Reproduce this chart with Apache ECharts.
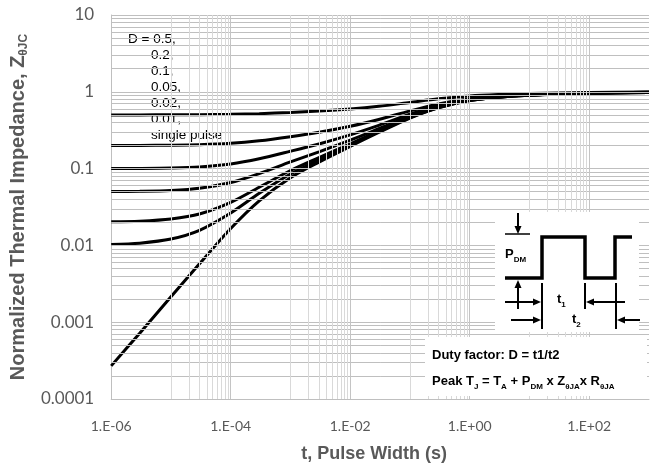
<!DOCTYPE html>
<html>
<head>
<meta charset="utf-8">
<script src="https://cdn.jsdelivr.net/npm/echarts@6/dist/echarts.min.js"></script>
<style>
  html, body { margin: 0; padding: 0; background: #fff; }
  #chart { width: 652px; height: 470px; }
</style>
</head>
<body>
<div id="chart"></div>
<script>
// pulse width t (s)
const pulseWidth = [1e-6, 3e-6, 1e-5, 3e-5, 1e-4, 3e-4, 1e-3, 3e-3, 1e-2, 3e-2, 1e-1, 3e-1, 1, 3, 10, 100, 1000]
// normalized thermal impedance for each duty factor
const zD050 = [0.5001, 0.5004, 0.5011, 0.5029, 0.5083, 0.519, 0.538, 0.5608, 0.5973, 0.6475, 0.7275, 0.8095, 0.8845, 0.9245, 0.951, 0.9775, 0.991]
const zD020 = [0.2002, 0.2006, 0.2017, 0.2046, 0.2133, 0.2304, 0.2607, 0.2973, 0.3556, 0.436, 0.564, 0.6952, 0.8152, 0.8792, 0.9216, 0.964, 0.9856]
const zD010 = [0.1002, 0.1006, 0.1019, 0.1052, 0.1149, 0.1342, 0.1683, 0.2094, 0.2751, 0.3655, 0.5095, 0.6571, 0.7921, 0.8641, 0.9118, 0.9595, 0.9838]
const zD005 = [0.0503, 0.0507, 0.052, 0.0555, 0.0658, 0.0861, 0.1221, 0.1655, 0.2348, 0.3303, 0.4823, 0.6381, 0.7806, 0.8566, 0.9069, 0.9573, 0.9829]
const zD002 = [0.0203, 0.0207, 0.0221, 0.0256, 0.0363, 0.0572, 0.0944, 0.1392, 0.2106, 0.3091, 0.4659, 0.6266, 0.7736, 0.852, 0.904, 0.9559, 0.9824]
const zD001 = [0.0103, 0.0107, 0.0121, 0.0157, 0.0264, 0.0476, 0.0851, 0.1304, 0.2026, 0.3021, 0.4605, 0.6228, 0.7713, 0.8505, 0.903, 0.9555, 0.9822]
const zSingle = [0.00027, 0.00072, 0.00214, 0.00575, 0.0166, 0.038, 0.0759, 0.1216, 0.1945, 0.295, 0.455, 0.619, 0.769, 0.849, 0.902, 0.955, 0.982]

const xTickValues = [1e-6, 1e-4, 1e-2, 1, 100]
const xTickLabels = ['1.E-06', '1.E-04', '1.E-02', '1.E+00', '1.E+02']
const yTickValues = [1e-4, 1e-3, 1e-2, 1e-1, 1, 10]
const yTickLabels = ['0.0001', '0.001', '0.01', '0.1', '1', '10']
const dutyLabels = ['D = 0.5,', '0.2,', '0.1,', '0.05,', '0.02,', '0.01,', 'single pulse']

const curves = [zD050, zD020, zD010, zD005, zD002, zD001, zSingle]

function pickLabel(values, labels, v) {
  for (let i = 0; i < values.length; i++) {
    if (Math.abs(Math.log10(v) - Math.log10(values[i])) < 1e-6) return labels[i]
  }
  return ''
}

// grid lines (Excel style: x minors at k*10^odd, y minors at k*10^n)
const gridLines = []
for (let e = -4; e <= 0; e++) {
  for (let k = 1; k <= 9; k++) {
    gridLines.push({ yAxis: k * Math.pow(10, e), lineStyle: { color: '#bfbfbf' } })
  }
}
gridLines.push({ yAxis: 10, lineStyle: { color: '#bfbfbf' } })
;[-5, -3, -1, 1].forEach(e => {
  for (let k = 1; k <= 9; k++) {
    gridLines.push({ xAxis: k * Math.pow(10, e), lineStyle: { color: '#d9d9d9' } })
  }
})
xTickValues.slice(1).forEach(v => {
  gridLines.push({ xAxis: v, lineStyle: { color: '#c4c4c4' } })
})

const myChart = echarts.init(document.getElementById('chart'))

const series = [{
  type: 'line',
  data: [],
  z: 1,
  silent: true,
  markLine: {
    silent: true,
    precision: 12,
    symbol: ['none', 'none'],
    label: { show: false },
    lineStyle: { type: 'solid', width: 1 },
    emphasis: { disabled: true },
    data: gridLines
  }
}]
curves.forEach((arr, i) => {
  series.push({
    name: dutyLabels[i],
    type: 'line',
    z: 3,
    smooth: 0.3,
    showSymbol: false,
    symbol: 'none',
    lineStyle: { color: '#000', width: 3 },
    data: pulseWidth.map((t, j) => [t, arr[j]])
  })
})

const textBase = { fontFamily: 'Liberation Sans', fontSize: 13.5, fill: '#000' }
const legendTexts = dutyLabels.map((s, i) => ({
  type: 'text',
  z: 2,
  left: i === 0 ? 128 : 151,
  top: 32 + i * 16,
  style: Object.assign({ text: s }, textBase)
}))

function arrow(x1, y1, x2, y2) {
  // line with a filled head at (x2, y2)
  const dx = x2 - x1, dy = y2 - y1
  const len = Math.sqrt(dx * dx + dy * dy)
  const ux = dx / len, uy = dy / len
  const hl = 8, hw = 3.5
  const bx = x2 - ux * hl, by = y2 - uy * hl
  return [
    { type: 'line', z: 11, shape: { x1: x1, y1: y1, x2: bx, y2: by }, style: { stroke: '#000', lineWidth: 2 } },
    { type: 'polygon', z: 11, shape: { points: [[x2, y2], [bx - uy * hw, by + ux * hw], [bx + uy * hw, by - ux * hw]] }, style: { fill: '#000' } }
  ]
}

const subRich = {
  b: { fontFamily: 'Liberation Sans', fontWeight: 'bold', fontSize: 13, lineHeight: 18, verticalAlign: 'middle', fill: '#000' },
  s: { fontFamily: 'Liberation Sans', fontWeight: 'bold', fontSize: 8, lineHeight: 8, verticalAlign: 'bottom', fill: '#000' }
}

const insetGraphics = [
  { type: 'rect', z: 10, shape: { x: 495, y: 212, width: 144, height: 120 }, style: { fill: '#fff' } },
  { type: 'rect', z: 10, shape: { x: 425, y: 337, width: 222, height: 59 }, style: { fill: '#fff' } },
  { type: 'polyline', z: 11, shape: { points: [[505, 278], [542, 278], [542, 237], [585, 237], [585, 278], [615, 278], [615, 237], [632, 237]] }, style: { stroke: '#000', lineWidth: 3.5, fill: null } },
  { type: 'line', z: 11, shape: { x1: 505, y1: 234, x2: 530, y2: 234 }, style: { stroke: '#000', lineWidth: 1.5 } },
  { type: 'line', z: 11, shape: { x1: 542, y1: 283, x2: 542, y2: 329 }, style: { stroke: '#000', lineWidth: 2 } },
  { type: 'line', z: 11, shape: { x1: 585, y1: 283, x2: 585, y2: 309 }, style: { stroke: '#000', lineWidth: 2 } },
  { type: 'line', z: 11, shape: { x1: 616, y1: 283, x2: 616, y2: 329 }, style: { stroke: '#000', lineWidth: 2 } },
  { type: 'line', z: 11, shape: { x1: 505, y1: 302, x2: 518, y2: 302 }, style: { stroke: '#000', lineWidth: 2 } },
  { type: 'text', z: 11, left: 505, top: 248, style: { rich: subRich, text: '{b|P}{s|DM}' } },
  { type: 'text', z: 11, left: 557, top: 293, style: { rich: subRich, text: '{b|t}{s|1}' } },
  { type: 'text', z: 11, left: 572, top: 313, style: { rich: subRich, text: '{b|t}{s|2}' } },
  { type: 'text', z: 11, left: 432, top: 349, style: { rich: subRich, text: '{b|Duty factor: D = t1/t2}' } },
  { type: 'text', z: 11, left: 432, top: 375, style: { rich: subRich, text: '{b|Peak T}{s|J}{b| = T}{s|A}{b| + P}{s|DM}{b| x Z}{s|θJA}{b|x R}{s|θJA}' } }
].concat(
  arrow(518, 213, 518, 234),
  arrow(518, 309, 518, 280),
  arrow(505, 302, 541, 302),
  arrow(625, 302, 586, 302),
  arrow(511, 320, 541, 320),
  arrow(640, 320, 617, 320)
)

const option = {
  animation: false,
  backgroundColor: '#fff',
  grid: {
    left: 97,
    right: -2,
    top: 15,
    bottom: 71,
    containLabel: false
  },
  xAxis: {
    type: 'log',
    logBase: 10,
    min: 1e-6,
    max: 1e3,
    name: 't, Pulse Width (s)',
    nameLocation: 'middle',
    nameGap: 46,
    nameTextStyle: { fontFamily: 'Liberation Sans', fontWeight: 'bold', fontSize: 18, color: '#595959', padding: [0, 12, 0, 0] },
    axisLine: { show: true, lineStyle: { color: '#bfbfbf', width: 1 } },
    axisTick: { show: false },
    splitLine: { show: false },
    minorSplitLine: { show: false },
    axisLabel: {
      margin: 20,
      color: '#595959',
      fontFamily: 'Lato',
      fontSize: 14,
      formatter: v => pickLabel(xTickValues, xTickLabels, v)
    }
  },
  yAxis: {
    type: 'log',
    logBase: 10,
    min: 1e-4,
    max: 10,
    name: '{a|Normalized Thermal Impedance, Z}{b|θJC}',
    nameLocation: 'middle',
    nameGap: 68,
    nameTextStyle: {
      rich: {
        a: { fontFamily: 'Liberation Sans', fontWeight: 'bold', fontSize: 20, lineHeight: 24, verticalAlign: 'middle', color: '#595959' },
        b: { fontFamily: 'Liberation Sans', fontWeight: 'bold', fontSize: 12, lineHeight: 12, verticalAlign: 'bottom', color: '#595959' }
      }
    },
    axisLine: { show: true, lineStyle: { color: '#bfbfbf', width: 1 } },
    axisTick: { show: false },
    splitLine: { show: false },
    axisLabel: {
      margin: 17,
      color: '#595959',
      fontFamily: 'Lato',
      fontSize: 17,
      formatter: v => pickLabel(yTickValues, yTickLabels, v)
    }
  },
  graphic: legendTexts.concat(insetGraphics),
  series: series
}
myChart.setOption(option, true)
</script>
</body>
</html>
